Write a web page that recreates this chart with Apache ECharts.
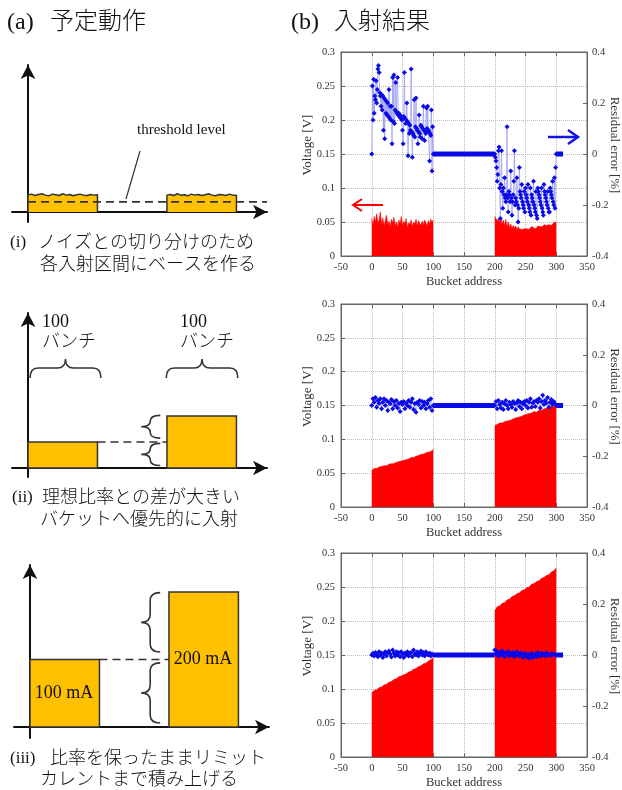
<!DOCTYPE html>
<html><head><meta charset="utf-8">
<script src="https://cdn.jsdelivr.net/npm/echarts@6/dist/echarts.min.js"></script>
<style>html,body{margin:0;padding:0;background:#fff}#c{width:622px;height:790px}</style>
</head><body><div id="c"></div>
<script>
// ---------------- data ----------------
// (b) measured results: red = Voltage [V] (left axis), blue = residual error [%] (right axis)
const red1L = [0.055,0.045,0.058,0.050,0.062,0.048,0.053,0.065,0.047,0.056,0.044,0.052,0.060,0.046,0.051,0.043,0.054,0.049,0.057,0.045,0.050,0.042,0.053,0.047,0.058,0.044,0.051,0.048,0.055,0.041,0.049,0.046,0.053,0.043,0.050,0.047,0.054,0.044,0.052,0.048,0.045,0.051,0.046,0.053,0.049,0.044,0.052,0.047,0.054,0.050,0.053];
const red1R = [0.058,0.056,0.052,0.055,0.048,0.057,0.046,0.053,0.044,0.054,0.043,0.050,0.042,0.047,0.040,0.045,0.041,0.044,0.039,0.043,0.040,0.042,0.039,0.041,0.040,0.042,0.040,0.041,0.039,0.042,0.041,0.043,0.040,0.042,0.041,0.044,0.042,0.043,0.045,0.043,0.046,0.044,0.045,0.047,0.046,0.048,0.045,0.047,0.049,0.048,0.050];
const blue1L = [0.000,0.267,0.133,0.293,0.160,0.227,0.213,0.287,0.200,0.253,
  0.333,0.347,0.320,0.240,0.227,0.187,0.233,0.173,0.227,0.093,
  0.220,0.060,0.213,0.160,0.207,0.153,0.200,0.147,0.253,0.140,
  0.187,0.133,0.187,0.040,0.300,0.127,0.310,0.120,0.173,0.280,
  0.167,0.160,0.300,0.153,0.160,0.147,0.153,0.140,0.147,0.133,
  0.093,0.040,0.147,0.320,0.140,0.120,0.133,0.200,0.127,-0.007,
  0.120,0.080,0.113,0.093,0.333,0.087,-0.013,0.080,0.073,0.213,
  0.067,0.107,0.220,0.100,0.093,0.040,0.087,0.153,0.080,0.067,
  0.113,0.107,0.060,0.100,0.187,0.093,0.053,0.087,0.080,0.180,
  0.100,0.187,0.093,0.087,-0.027,0.080,0.073,0.173,-0.067,0.107,0.000];
const blue1R = [0.000,-0.013,-0.027,-0.053,-0.107,-0.080,0.013,0.027,-0.133,-0.253,
  -0.120,0.013,-0.147,-0.213,-0.133,-0.160,-0.093,-0.173,-0.187,-0.160,
  0.107,-0.173,-0.227,-0.147,-0.160,-0.187,-0.067,-0.173,-0.240,-0.187,
  -0.160,-0.107,0.013,-0.200,-0.173,-0.187,-0.093,-0.200,-0.267,-0.213,
  -0.053,-0.147,-0.160,-0.173,-0.120,-0.187,-0.200,-0.213,-0.147,-0.227,
  -0.133,-0.160,-0.173,-0.187,-0.120,-0.200,-0.213,-0.227,-0.133,-0.240,
  -0.160,-0.173,-0.187,-0.107,-0.200,-0.213,-0.227,-0.147,-0.240,-0.253,
  -0.133,-0.147,-0.160,-0.173,-0.187,-0.200,-0.133,-0.213,-0.227,-0.240,
  -0.120,-0.147,-0.160,-0.173,-0.187,-0.200,-0.147,-0.213,-0.227,-0.227,
  -0.133,-0.147,-0.160,-0.173,-0.107,-0.187,-0.200,-0.093,-0.213,-0.053,0.000];

const red2L = [0.054,0.057,0.057,0.059,0.060,0.061,0.061,0.063,0.064,0.064,0.066,0.067,0.068,0.069,0.070,0.071,0.073,0.073,0.075,0.076,0.078,0.078,0.080,0.081,0.082,0.085];
const red2R = [0.120,0.122,0.124,0.124,0.126,0.127,0.128,0.129,0.131,0.132,0.133,0.134,0.136,0.137,0.138,0.139,0.141,0.140,0.143,0.143,0.145,0.146,0.147,0.150,0.148,0.152];
const blue2L = [0.000,0.027,0.013,0.032,-0.007,0.020,0.008,0.027,-0.013,0.013,0.027,0.000,0.020,-0.020,0.013,0.007,0.024,-0.013,0.016,0.000,0.020,-0.010,0.008,-0.024,0.013,0.004,0.016,-0.013,0.010,0.000,0.020,-0.007,0.013,0.027,-0.016,0.008,-0.027,0.013,0.004,0.020,-0.010,0.016,0.000,0.013,-0.013,0.007,0.020,-0.007,0.027,-0.020,0.000];
const blue2R = [0.000,0.016,-0.013,0.020,0.004,-0.010,0.013,-0.016,0.007,0.020,0.000,-0.013,0.013,0.004,-0.007,0.016,0.008,-0.016,0.010,0.020,-0.004,0.013,-0.013,0.007,0.016,0.000,0.020,-0.010,0.013,0.027,-0.007,0.010,0.016,-0.004,0.020,0.013,0.027,-0.010,0.016,0.040,0.004,0.020,0.010,0.032,-0.007,0.013,0.024,0.004,0.016,0.007,0.000];

const red3L = [0.094,0.098,0.099,0.102,0.103,0.106,0.107,0.110,0.111,0.114,0.115,0.118,0.119,0.121,0.122,0.125,0.126,0.129,0.130,0.133,0.134,0.137,0.138,0.141,0.143,0.146];
const red3R = [0.215,0.221,0.222,0.226,0.227,0.231,0.232,0.236,0.237,0.240,0.241,0.245,0.246,0.249,0.250,0.254,0.255,0.258,0.259,0.263,0.264,0.267,0.268,0.272,0.274,0.278];
const blue3L = [0.000,0.007,-0.004,0.010,0.004,-0.007,0.013,0.000,0.008,-0.010,0.004,0.013,-0.004,0.010,0.016,0.004,-0.008,0.020,0.007,-0.004,0.013,0.000,0.010,-0.007,0.013,0.004,-0.010,0.008,0.000,0.013,-0.004,0.007,0.010,-0.007,0.020,0.004,0.000,0.013,-0.004,0.008,0.016,0.000,0.010,-0.004,0.013,0.004,0.000,0.008,-0.004,0.004,0.000];
const blue3R = [0.020,0.004,0.013,-0.004,0.010,0.000,0.016,0.004,-0.007,0.010,0.004,0.013,-0.004,0.007,0.000,0.010,-0.007,0.004,0.013,0.000,-0.004,0.008,0.004,-0.010,0.007,0.000,-0.007,0.004,-0.013,0.000,0.007,-0.010,-0.004,0.004,-0.007,0.010,0.000,-0.004,0.007,0.000,0.004,-0.004,0.008,0.000,0.004,-0.002,0.004,0.000,0.004,0.000,0.000];

// flat (no injection) buckets: residual 0
const flatMid = [[100,0],[200,0]];
const flatEnd = [[300,0],[311,0]];

// injection regions (bucket address)
const regionStarts = [0, 200];
const regionWidth = 100;

// (a) schematic levels
const baseTopI_L = [25,26.5,24.5,26,27,25,24,26.5,25.5,24.5,27,25,26,24,25.5,26.5,25,24.5,26,25,25.5];
const baseTopI_R = [25,26,24.5,27,25,25.5,24,26.5,25,26,24.5,25.5,27,25,24,26,25.5,24.5,26.5,25,25];
const thresholdI = 15;
const levelsII = [40, 80];
const levelsIII = [100, 200];

// ---------------- helpers ----------------
const FONT = "'Liberation Serif','Noto Sans CJK JP',serif";
function spread(arr, a, b){ const n = arr.length; return arr.map((v,i)=>[a + (b-a)*i/(n-1), v]); }
function baseShape(tops, a, b){ return [[a,0]].concat(spread(tops,a,b), [[b,0]]); }

const rightCharts = [
  {top:52, height:204, redL:red1L, redR:red1R, blueL:blue1L, blueR:blue1R},
  {top:304, height:203, redL:red2L, redR:red2R, blueL:blue2L, blueR:blue2R},
  {top:553, height:204, redL:red3L, redR:red3R, blueL:blue3L, blueR:blue3R}
];
const schem = [
  {left:12, top:65, height:157, ymin:-14.8, ymax:217.8},
  {left:12, top:313, height:164, ymin:-13.8, ymax:238.5},
  {left:14, top:565, height:173, ymin:-16.3, ymax:240}
];

const grid = [], xAxis = [], yAxis = [], series = [];
const frame = '#666';
rightCharts.forEach((c,i)=>{
  grid.push({left:341, width:246, top:c.top, height:c.height, show:true, borderColor:frame, borderWidth:1,
    backgroundColor:'transparent', containLabel:false, outerBoundsMode:'none'});
});
schem.forEach(s=>{ grid.push({left:s.left, width:255, top:s.top, height:s.height, containLabel:false, outerBoundsMode:'none'}); });

rightCharts.forEach((c,i)=>{
  xAxis.push({gridIndex:i, type:'value', min:-50, max:350, interval:50,
    axisLine:{onZero:false, lineStyle:{color:frame}}, axisTick:{inside:true, length:4, lineStyle:{color:frame}},
    axisLabel:{color:'#333', fontFamily:FONT, fontSize:10.5, margin:6},
    splitLine:{show:true, lineStyle:{type:'dotted', color:'#bbb'}},
    name:'Bucket address', nameLocation:'middle', nameGap:19,
    nameTextStyle:{fontFamily:FONT, fontSize:12.5, color:'#333'}});
});
rightCharts.forEach((c,i)=>{
  xAxis.push({gridIndex:i, type:'value', position:'top', min:-50, max:350, interval:50,
    axisLine:{onZero:false, lineStyle:{color:frame}}, axisTick:{inside:true, length:4, lineStyle:{color:frame}},
    axisLabel:{show:false}, splitLine:{show:false}});
});
schem.forEach((s,k)=>{
  xAxis.push({gridIndex:3+k, type:'value', min:-23, max:344,
    axisLine:{onZero:true, symbol:['none','arrow'], symbolSize:[11,14], lineStyle:{color:'#111', width:2}},
    axisTick:{show:false}, axisLabel:{show:false}, splitLine:{show:false}});
});
rightCharts.forEach((c,i)=>{
  yAxis.push({gridIndex:i, type:'value', position:'left', min:0, max:0.3, interval:0.05,
    axisLine:{show:true, onZero:false, lineStyle:{color:frame}}, axisTick:{show:true, inside:true, length:4, lineStyle:{color:frame}},
    axisLabel:{color:'#333', fontFamily:FONT, fontSize:10.5, margin:6},
    splitLine:{show:true, lineStyle:{type:'dotted', color:'#bbb'}}});
});
rightCharts.forEach((c,i)=>{
  yAxis.push({gridIndex:i, type:'value', position:'right', min:-0.4, max:0.4, interval:0.2,
    axisLine:{show:true, onZero:false, lineStyle:{color:frame}}, axisTick:{show:true, inside:true, length:4, lineStyle:{color:frame}},
    axisLabel:{color:'#333', fontFamily:FONT, fontSize:10.5, margin:5},
    splitLine:{show:false}});
});
schem.forEach((s,k)=>{
  yAxis.push({gridIndex:3+k, type:'value', min:s.ymin, max:s.ymax,
    axisLine:{onZero:true, symbol:['none','arrow'], symbolSize:[11,14], lineStyle:{color:'#111', width:2}},
    axisTick:{show:false}, axisLabel:{show:false}, splitLine:{show:false}});
});

// right chart series
rightCharts.forEach((c,i)=>{
  [[c.redL, regionStarts[0]], [c.redR, regionStarts[1]]].forEach(([arr, st])=>{
    series.push({type:'line', xAxisIndex:i, yAxisIndex:i, data:spread(arr, st, st+regionWidth),
      symbol:'none', lineStyle:{width:0.6, color:'#ff0000'}, areaStyle:{color:'#ff0000', opacity:1}, z:2, silent:true});
  });
  [[c.blueL, regionStarts[0]], [c.blueR, regionStarts[1]]].forEach(([arr, st])=>{
    series.push({type:'line', xAxisIndex:i, yAxisIndex:3+i, data:spread(arr, st, st+regionWidth),
      symbol:'diamond', symbolSize:5, showAllSymbol:true, itemStyle:{color:'#0a0ae8'},
      lineStyle:{width:0.7, color:'#9494f4'}, z:4, silent:true});
  });
  [flatMid, flatEnd].forEach(seg=>{
    series.push({type:'line', xAxisIndex:i, yAxisIndex:3+i, data:seg, symbol:'none',
      lineStyle:{width:5, color:'#0a0ae8'}, z:4, silent:true});
  });
});

// schematic series
const YEL = '#FFC000', EDGE = '#333';
series.push({type:'line', xAxisIndex:6, yAxisIndex:6, data:baseShape(baseTopI_L, regionStarts[0], regionStarts[0]+regionWidth),
  symbol:'none', lineStyle:{color:EDGE, width:1.5}, areaStyle:{color:YEL, opacity:1}, z:2, silent:true});
series.push({type:'line', xAxisIndex:6, yAxisIndex:6, data:baseShape(baseTopI_R, regionStarts[1], regionStarts[1]+regionWidth),
  symbol:'none', lineStyle:{color:EDGE, width:1.5}, areaStyle:{color:YEL, opacity:1}, z:2, silent:true});
series.push({type:'line', xAxisIndex:6, yAxisIndex:6, data:[[0,thresholdI],[344,thresholdI]],
  symbol:'none', lineStyle:{color:'#333', width:1.6, type:[8,5]}, z:3, silent:true});

function rectSeries(ax, levels){
  return {type:'custom', xAxisIndex:ax, yAxisIndex:ax, silent:true, z:2,
    dimensions:['x0','x1','h'], encode:{x:[0,1], y:2},
    data: levels.map((h,k)=>[regionStarts[k], regionStarts[k]+regionWidth, h]),
    renderItem:(p,api)=>{
      const a = api.coord([api.value(0), 0]);
      const b = api.coord([api.value(1), api.value(2)]);
      return {type:'rect', shape:{x:a[0], y:b[1], width:b[0]-a[0], height:a[1]-b[1]},
        style:{fill:YEL, stroke:EDGE, lineWidth:1.5}};
    }};
}
series.push(rectSeries(7, levelsII));
series.push(rectSeries(8, levelsIII));
series.push({type:'line', xAxisIndex:7, yAxisIndex:7, data:[[regionWidth, levelsII[0]],[regionStarts[1], levelsII[0]]],
  symbol:'none', lineStyle:{color:'#333', width:1.6, type:[8,5]}, z:3, silent:true});
series.push({type:'line', xAxisIndex:8, yAxisIndex:8, data:[[regionWidth, levelsIII[0]],[regionStarts[1], levelsIII[0]]],
  symbol:'none', lineStyle:{color:'#333', width:1.6, type:[8,5]}, z:3, silent:true});

// braces (annotation), in data coordinates: [kind, a, b, c]
function braceSeries(ax, items){
  return {type:'custom', xAxisIndex:ax, yAxisIndex:ax, silent:true, z:5,
    dimensions:['k','a','b','c'], encode:{x:2, y:3},
    data: items,
    renderItem:(p,api)=>{
      const k = api.value(0), A = api.value(1), B = api.value(2), C = api.value(3);
      let d;
      if (k === 0) {
        const p0 = api.coord([A, C]), p1 = api.coord([B, C]);
        const x0 = p0[0], x1 = p1[0], ys = p0[1], xm = (x0+x1)/2, r = 8;
        d = `M${x0} ${ys+10} Q${x0} ${ys} ${x0+r} ${ys} L${xm-r} ${ys} Q${xm} ${ys} ${xm} ${ys-9} Q${xm} ${ys} ${xm+r} ${ys} L${x1-r} ${ys} Q${x1} ${ys} ${x1} ${ys+10}`;
      } else {
        const p0 = api.coord([C, B]), p1 = api.coord([C, A]);
        const xs = p0[0], y0 = p0[1], y1 = p1[1], ym = (y0+y1)/2;
        const r = Math.min(8, (y1-y0)/4);
        d = `M${xs+10} ${y0} Q${xs} ${y0} ${xs} ${y0+r} L${xs} ${ym-r} Q${xs} ${ym} ${xs-9} ${ym} Q${xs} ${ym} ${xs} ${ym+r} L${xs} ${y1-r} Q${xs} ${y1} ${xs+10} ${y1}`;
      }
      return {type:'path', shape:{pathData:d}, style:{fill:null, stroke:'#333', lineWidth:1.6}};
    }};
}
series.push(braceSeries(7, [[0,3,105,154],[0,199,302,154],[1,46,81,176],[1,4,38,176]]));
series.push(braceSeries(8, [[1,111,199,173],[1,6,95,173]]));

// ---------------- texts & annotations ----------------
function txt(s, x, y, size, align){
  return {type:'text', x:x, y:y, z:100, silent:true,
    style:{text:s, fontFamily:FONT, fontSize:size, fontWeight:300, fill:'#111', align:align||'left', verticalAlign:'middle'}};
}
function vtxt(s, x, y, rot){
  return {type:'text', x:x, y:y, rotation:rot, z:100, silent:true,
    style:{text:s, fontFamily:FONT, fontSize:13, fill:'#333', align:'center', verticalAlign:'middle'}};
}
function arrowLine(pts, color, w){
  return {type:'polyline', z:100, silent:true, shape:{points:pts}, style:{stroke:color, lineWidth:w, fill:null}};
}
const graphic = [
  txt('(a)', 7, 23, 24), txt('予定動作', 50, 23, 24),
  txt('(b)', 291, 23, 24), txt('入射結果', 334, 23, 24),
  txt('threshold level', 137, 130, 15),
  {type:'line', z:100, silent:true, shape:{x1:140, y1:151, x2:126, y2:199}, style:{stroke:'#333', lineWidth:1.2}},
  txt('(i)', 10, 243, 17), txt('ノイズとの切り分けのため', 38, 243, 18),
  txt('各入射区間にベースを作る', 40, 265, 18),
  txt('100', 42, 322, 18), txt('バンチ', 42, 342, 18),
  txt('100', 180, 322, 18), txt('バンチ', 180, 342, 18),
  txt('(ii)', 12, 498, 17), txt('理想比率との差が大きい', 42, 498, 18),
  txt('バケットへ優先的に入射', 40, 520, 18),
  txt('100 mA', 64, 693, 18, 'center'),
  txt('200 mA', 203, 659, 18, 'center'),
  txt('(iii)', 10, 759, 17), txt('比率を保ったままリミット', 50, 759, 18),
  txt('カレントまで積み上げる', 40, 780, 18),
  arrowLine([[353,205],[383,205]], '#ff0000', 2),
  arrowLine([[362,199],[353,205],[362,211]], '#ff0000', 2),
  arrowLine([[548,137],[578,137]], '#1515e6', 2.5),
  arrowLine([[568,130],[578,137],[568,144]], '#1515e6', 2.5)
];
rightCharts.forEach(c=>{
  const mid = c.top + c.height/2 - 9;
  graphic.push(vtxt('Voltage [V]', 308, mid, Math.PI/2));
  graphic.push(vtxt('Residual error [%]', 614, mid, -Math.PI/2));
});

const chart = echarts.init(document.getElementById('c'), null, {renderer:'canvas'});
chart.setOption({animation:false, backgroundColor:'#fff', grid, xAxis, yAxis, series, graphic});
</script></body></html>
